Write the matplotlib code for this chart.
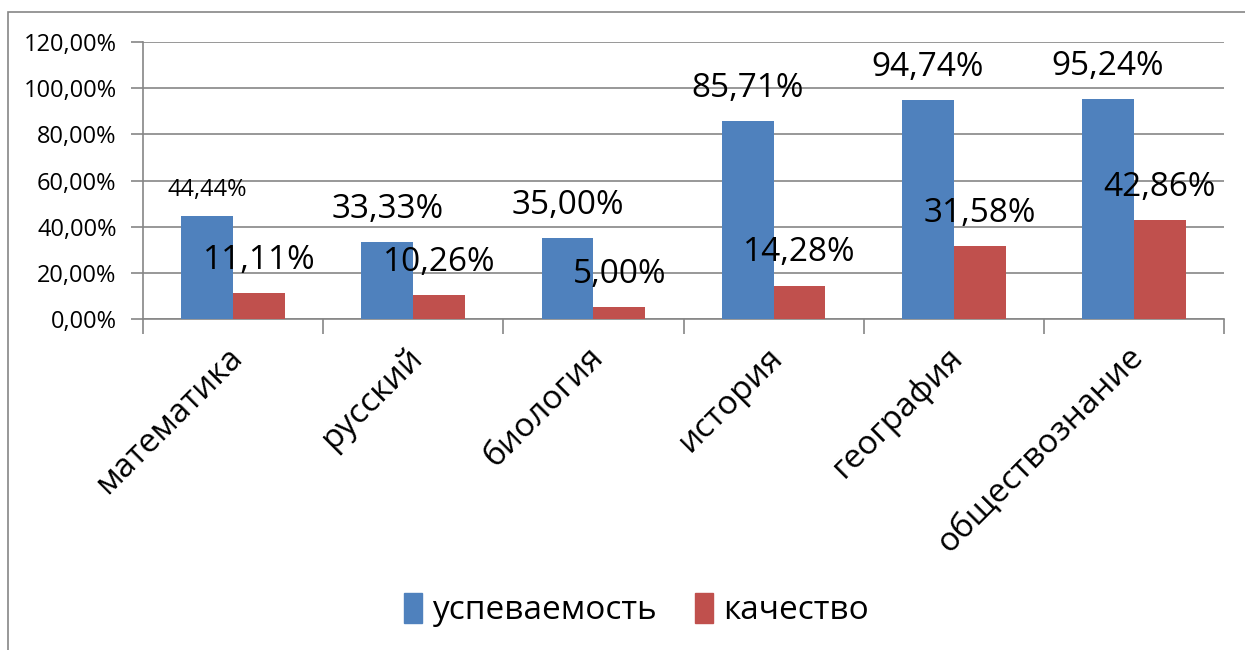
import matplotlib.pyplot as plt
import matplotlib.ticker as mtick
from matplotlib.patches import Rectangle, Patch
import numpy as np

plt.rcParams['font.family'] = ['Open Sans', 'DejaVu Sans']

subjects = ['математика', 'русский', 'биология', 'история', 'география', 'обществознание']
uspev = [44.44, 33.33, 35.00, 85.71, 94.74, 95.24]
kachestvo = [11.11, 10.26, 5.00, 14.28, 31.58, 42.86]
series_names = ['успеваемость', 'качество']

BLUE = '#4F81BD'
RED = '#C0504D'
GRID = '#868686'

W, H = 1245, 650
fig = plt.figure(figsize=(W / 100, H / 100), dpi=100)
ax = fig.add_axes([143 / W, 1 - 319 / H, (1224 - 143) / W, (319 - 42) / H])

# outer chart frame (runs off the picture at the right and bottom)
fig.patches.append(Rectangle((8 / W, -0.1), 1.2, 1 - 12 / H + 0.1, transform=fig.transFigure,
                             fill=False, edgecolor=GRID, linewidth=1.2))

x = np.arange(len(subjects))
bw = 0.288
ax.bar(x - bw / 2, uspev, bw, color=BLUE, label=series_names[0], zorder=3)
ax.bar(x + bw / 2, kachestvo, bw, color=RED, label=series_names[1], zorder=3)

ax.set_xlim(-0.5, len(subjects) - 0.5)
ax.set_ylim(0, 120)
ax.yaxis.set_major_locator(mtick.MultipleLocator(20))
ax.yaxis.set_major_formatter(mtick.FuncFormatter(lambda v, p: ('%.2f%%' % v).replace('.', ',')))
ax.grid(axis='y', color=GRID, linewidth=1.2, zorder=0)

for s in ['top', 'right']:
    ax.spines[s].set_visible(False)
for s in ['left', 'bottom']:
    ax.spines[s].set_color(GRID)
    ax.spines[s].set_linewidth(1.2)

ax.tick_params(axis='y', length=9, color=GRID, width=1.2, labelsize=17, pad=10)
ax.set_xticks(x - 0.04)
ax.set_xticks(np.arange(-0.5, len(subjects)), minor=True)
ax.tick_params(axis='x', which='major', length=0, pad=16)
ax.tick_params(axis='x', which='minor', length=11, color=GRID, width=1.2)
ax.set_xticklabels(subjects, rotation=45, ha='right', rotation_mode='anchor', fontsize=24)

def fmt(v):
    return ('%.2f%%' % v).replace('.', ',')

for i, v in enumerate(uspev):
    small = i == 0
    ax.annotate(fmt(v), (x[i] - bw / 2, v), xytext=(0, 18.7 if small else 23.8),
                textcoords='offset points', ha='center', va='center',
                fontsize=17 if small else 24, zorder=4)
for i, v in enumerate(kachestvo):
    ax.annotate(fmt(v), (x[i] + bw / 2, v), xytext=(0, 23.8),
                textcoords='offset points', ha='center', va='center', fontsize=24, zorder=4)

handles = [Patch(color=BLUE), Patch(color=RED)]
fig.legend(handles, series_names, loc='center', bbox_to_anchor=(0.511, 1 - 610 / H),
           ncol=2, frameon=False, fontsize=24, handlelength=0.55, handleheight=1.0,
           handletextpad=0.3, columnspacing=1.15)

fig.savefig('out.png', dpi=100)
